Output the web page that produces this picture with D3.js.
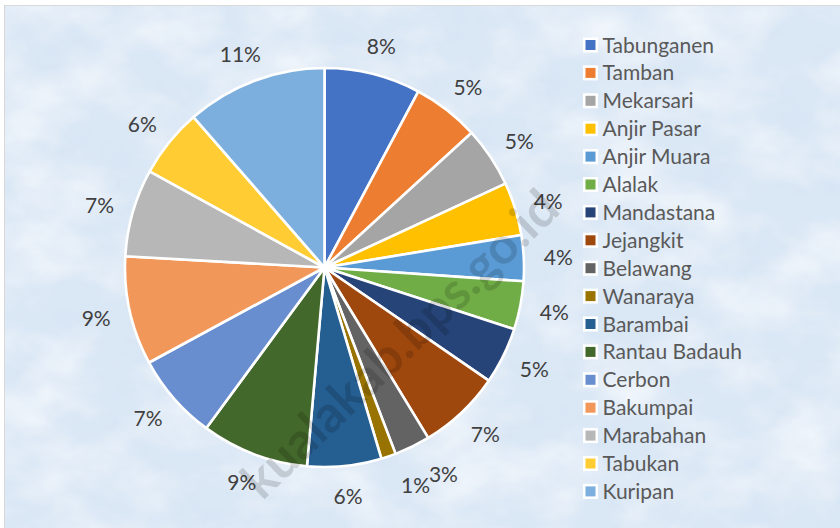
<!DOCTYPE html>
<html>
<head>
<meta charset="utf-8">
<script src="https://cdn.jsdelivr.net/npm/d3@7"></script>
<style>
  body { margin: 0; background: #fff; }
  svg { display: block; }
  text { font-family: Lato, "Open Sans", sans-serif; }
</style>
</head>
<body>
<div id="chart"></div>
<script>
var width = 840,
	height = 528;

// kecamatan names, in legend / slice order
var districts = ["Tabunganen", "Tamban", "Mekarsari", "Anjir Pasar", "Anjir Muara", "Alalak",
	"Mandastana", "Jejangkit", "Belawang", "Wanaraya", "Barambai", "Rantau Badauh",
	"Cerbon", "Bakumpai", "Marabahan", "Tabukan", "Kuripan"];
// share of total (percent)
var shares = [7.8, 5.4, 4.9, 4.3, 3.7, 3.9, 4.6, 6.7, 2.9, 1.2, 6.0, 8.7, 7.0, 8.8, 7.1, 5.6, 11.4];
var colors = ["#4472C4", "#ED7D31", "#A5A5A5", "#FFC000", "#5B9BD5", "#70AD47",
	"#264478", "#9E480E", "#636363", "#997300", "#255E91", "#43682B",
	"#698ED0", "#F1975A", "#B7B7B7", "#FFCD33", "#7CAFDD"];

var cx = 324.5, cy = 267.5, radius = 199.5;

var svg = d3.select("#chart")
	.append("svg")
	.attr("width", width)
	.attr("height", height);

var defs = svg.append("defs");
var tex = defs.append("filter").attr("id", "tex")
	.attr("x", 0).attr("y", 0).attr("width", 1).attr("height", 1);
tex.append("feTurbulence")
	.attr("type", "fractalNoise")
	.attr("baseFrequency", "0.012 0.018")
	.attr("numOctaves", 4)
	.attr("seed", 7);
tex.append("feColorMatrix")
	.attr("type", "matrix")
	.attr("values", "0 0 0 0 1  0 0 0 0 1  0 0 0 0 1  1.6 0 0 0 -0.62");

var tex2 = defs.append("filter").attr("id", "tex2")
	.attr("x", 0).attr("y", 0).attr("width", 1).attr("height", 1);
tex2.append("feTurbulence")
	.attr("type", "fractalNoise")
	.attr("baseFrequency", "0.03")
	.attr("numOctaves", 3)
	.attr("seed", 21);
tex2.append("feColorMatrix")
	.attr("type", "matrix")
	.attr("values", "0 0 0 0 0.62  0 0 0 0 0.74  0 0 0 0 0.88  -1.4 0 0 0 0.62");

// chart area background
svg.append("rect")
	.attr("x", 4.5).attr("y", 5.5)
	.attr("width", width).attr("height", height)
	.attr("fill", "#dae7f5")
	.attr("stroke", "#d9d9d9");
svg.append("rect")
	.attr("x", 5).attr("y", 6)
	.attr("width", width).attr("height", height)
	.attr("filter", "url(#tex2)")
	.attr("opacity", 0.5);
svg.append("rect")
	.attr("x", 5).attr("y", 6)
	.attr("width", width).attr("height", height)
	.attr("filter", "url(#tex)")
	.attr("opacity", 0.8);

var pie = d3.pie().sort(null).value(function(d) { return d; });
var arcs = pie(shares);
var total = d3.sum(shares);

var arc = d3.arc().innerRadius(0).outerRadius(radius);

var g = svg.append("g")
	.attr("transform", "translate(" + cx + "," + cy + ")");

g.selectAll(".slice")
	.data(arcs)
	.enter()
	.append("path")
	.attr("class", "slice")
	.attr("d", arc)
	.attr("fill", function(d, i) { return colors[i]; })
	.attr("stroke", "#fff")
	.attr("stroke-width", 2.6)
	.attr("stroke-linejoin", "round");

// outside-end data labels
var labelSize = 21;
g.selectAll(".lbl")
	.data(arcs)
	.enter()
	.append("text")
	.attr("class", "lbl")
	.attr("font-size", labelSize)
	.attr("fill", "#404040")
	.attr("text-anchor", "middle")
	.attr("dominant-baseline", "central")
	.text(function(d) { return Math.round(d.value / total * 100) + "%"; })
	.each(function(d) {
		var a = (d.startAngle + d.endAngle) / 2,
			w = this.getComputedTextLength(),
			h = labelSize * 0.9,
			r = radius + 20;
		var x = r * Math.sin(a) + w / 2 * Math.sin(a),
			y = -r * Math.cos(a) - h / 2 * Math.cos(a);
		// tiny slices at the bottom get pushed sideways, like Excel does
		if (d.value / total < 0.035 && Math.cos(a) < -0.8) x += 16;
		d3.select(this).attr("x", x).attr("y", y);
	});

// watermark
svg.append("text")
	.attr("transform", "translate(562,212) rotate(-44)")
	.attr("text-anchor", "end")
	.attr("font-size", 51)
	.attr("font-weight", "bold")
	.attr("fill", "#000")
	.attr("opacity", 0.14)
	.text("kualakab.bps.go.id");

// legend
var legend = svg.append("g")
	.attr("transform", "translate(590.5,45)");

var items = legend.selectAll(".item")
	.data(districts)
	.enter()
	.append("g")
	.attr("class", "item")
	.attr("transform", function(d, i) { return "translate(0," + (i * 27.9) + ")"; });

items.append("rect")
	.attr("x", -7.5).attr("y", -7.5)
	.attr("width", 15).attr("height", 15)
	.attr("fill", "#fff");
items.append("rect")
	.attr("x", -5).attr("y", -5)
	.attr("width", 10).attr("height", 10)
	.attr("fill", function(d, i) { return colors[i]; });
items.append("text")
	.attr("x", 12)
	.attr("y", 7.5)
	.attr("font-size", 21)
	.attr("fill", "#595959")
	.text(function(d) { return d; });
</script>
</body>
</html>
